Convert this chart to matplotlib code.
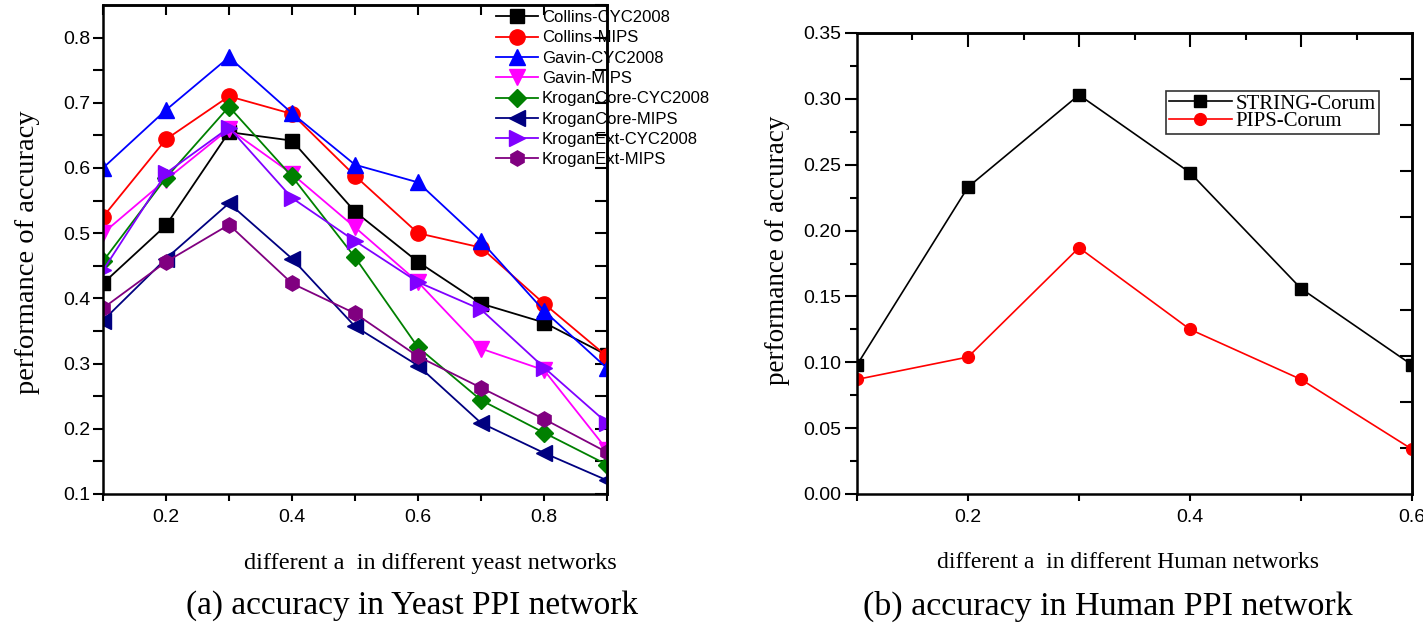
import numpy as np
import matplotlib
matplotlib.use("Agg")
import matplotlib.pyplot as plt
from matplotlib.ticker import FixedLocator, NullFormatter, FormatStrFormatter

# ---------------- data ----------------
alpha_yeast = [0.1, 0.2, 0.3, 0.4, 0.5, 0.6, 0.7, 0.8, 0.9]
collins_cyc = [0.423, 0.512, 0.655, 0.642, 0.533, 0.456, 0.392, 0.363, 0.313]
collins_mips = [0.525, 0.644, 0.710, 0.683, 0.588, 0.500, 0.478, 0.392, 0.311]
gavin_cyc = [0.600, 0.689, 0.770, 0.684, 0.605, 0.578, 0.488, 0.381, 0.293]
gavin_mips = [0.500, 0.582, 0.660, 0.591, 0.509, 0.425, 0.323, 0.290, 0.168]
krogancore_cyc = [0.457, 0.585, 0.694, 0.587, 0.463, 0.325, 0.244, 0.194, 0.145]
krogancore_mips = [0.366, 0.461, 0.546, 0.461, 0.357, 0.297, 0.209, 0.163, 0.121]
kroganext_cyc = [0.443, 0.592, 0.662, 0.554, 0.488, 0.425, 0.383, 0.294, 0.209]
kroganext_mips = [0.385, 0.456, 0.513, 0.423, 0.377, 0.311, 0.263, 0.215, 0.164]

yeast_names = ["Collins-CYC2008", "Collins-MIPS", "Gavin-CYC2008", "Gavin-MIPS",
               "KroganCore-CYC2008", "KroganCore-MIPS", "KroganExt-CYC2008", "KroganExt-MIPS"]
yeast_series = [collins_cyc, collins_mips, gavin_cyc, gavin_mips,
                krogancore_cyc, krogancore_mips, kroganext_cyc, kroganext_mips]

alpha_human = [0.1, 0.2, 0.3, 0.4, 0.5, 0.6]
string_corum = [0.098, 0.233, 0.303, 0.244, 0.156, 0.098]
pips_corum = [0.087, 0.104, 0.187, 0.125, 0.087, 0.034]
human_names = ["STRING-Corum", "PIPS-Corum"]

# ---------------- styles ----------------
yeast_colors = ["#000000", "#ff0000", "#0000ff", "#ff00ff", "#008000", "#000080", "#8000ff", "#800080"]
yeast_markers = ["s", "o", "^", "v", "D", "<", ">", "h"]
yeast_msizes = [10, 11, 11, 11, 9, 11, 11, 11]

SANS = "Liberation Sans"
SERIF = "Liberation Serif"

fig = plt.figure(figsize=(14.23, 6.32), dpi=100)
W, H = 1423.0, 632.0

def fx(px):
    return px / W

def fy(py):
    return 1 - py / H

# ---------------- left panel ----------------
axL = fig.add_axes([fx(103), fy(494), fx(607) - fx(103), fy(5) - fy(494)])
for name, vals, c, m, ms in zip(yeast_names, yeast_series, yeast_colors, yeast_markers, yeast_msizes):
    axL.plot(alpha_yeast, vals, color=c, marker=m, markersize=ms, linewidth=1.3,
             markeredgecolor=c, label=name)
axL.set_xlim(0.1, 0.9)
axL.set_ylim(0.1, 0.85)
axL.xaxis.set_major_locator(FixedLocator([0.2, 0.4, 0.6, 0.8]))
axL.xaxis.set_minor_locator(FixedLocator([0.1, 0.3, 0.5, 0.7, 0.9]))
axL.yaxis.set_major_locator(FixedLocator([0.1, 0.2, 0.3, 0.4, 0.5, 0.6, 0.7, 0.8]))
axL.yaxis.set_minor_locator(FixedLocator(list(np.arange(0.15, 0.85, 0.1))))
axL.xaxis.set_major_formatter(FormatStrFormatter("%.1f"))
axL.yaxis.set_major_formatter(FormatStrFormatter("%.1f"))
axL.tick_params(axis="x", which="both", direction="out", length=5, width=1.5,
                labelsize=14, pad=6)
axL.tick_params(axis="y", which="both", direction="out", length=7, width=1.5,
                labelsize=14, pad=2)
for lab in axL.get_xticklabels() + axL.get_yticklabels():
    lab.set_fontfamily(SANS)
for sp in axL.spines.values():
    sp.set_linewidth(1.8)

topL = axL.secondary_xaxis("top")
topL.xaxis.set_major_locator(FixedLocator(alpha_yeast))
topL.tick_params(direction="in", length=7, width=1.5, labelsize=0)
topL.xaxis.set_major_formatter(NullFormatter())
topL.spines["top"].set_linewidth(1.8)
rightL = axL.secondary_yaxis("right")
rightL.yaxis.set_major_locator(FixedLocator(list(np.arange(0.1, 0.851, 0.05))))
rightL.tick_params(direction="in", length=9, width=1.5)
rightL.yaxis.set_major_formatter(NullFormatter())
rightL.spines["right"].set_linewidth(1.8)

legL = axL.legend(loc="upper left", bbox_to_anchor=(fx(496), fy(10)),
                  bbox_transform=fig.transFigure, frameon=False,
                  prop={"family": SANS, "size": 12}, handlelength=2.5,
                  handletextpad=0.25, labelspacing=0.32, borderpad=0, borderaxespad=0)

fig.text(fx(28), fy(252), "performance of accuracy", rotation=90, ha="center", va="center",
         family=SERIF, fontsize=20.5)
fig.text(fx(430), fy(563), "different a  in different yeast networks", ha="center", va="center",
         family=SERIF, fontsize=17.5)
fig.text(fx(412), fy(606), "(a) accuracy in Yeast PPI network", ha="center", va="center",
         family=SERIF, fontsize=24)

# ---------------- right panel ----------------
axR = fig.add_axes([fx(857), fy(494), fx(1412) - fx(857), fy(33) - fy(494)])
axR.plot(alpha_human, string_corum, color="#000000", marker="s", markersize=8, linewidth=1.2,
         label=human_names[0])
axR.plot(alpha_human, pips_corum, color="#ff0000", marker="o", markersize=8.5, linewidth=1.2,
         label=human_names[1])
axR.set_xlim(0.1, 0.6)
axR.set_ylim(0.0, 0.35)
axR.xaxis.set_major_locator(FixedLocator([0.2, 0.4, 0.6]))
axR.xaxis.set_minor_locator(FixedLocator([0.1, 0.3, 0.5]))
axR.yaxis.set_major_locator(FixedLocator(list(np.arange(0.0, 0.351, 0.05))))
axR.yaxis.set_minor_locator(FixedLocator(list(np.arange(0.025, 0.35, 0.05))))
axR.xaxis.set_major_formatter(FormatStrFormatter("%.1f"))
axR.yaxis.set_major_formatter(FormatStrFormatter("%.2f"))
axR.tick_params(axis="x", which="both", direction="out", length=5, width=1.5,
                labelsize=14, pad=6)
axR.tick_params(axis="y", which="major", direction="out", length=9, width=1.5,
                labelsize=14, pad=2)
axR.tick_params(axis="y", which="minor", direction="out", length=5, width=1.5)
for lab in axR.get_xticklabels() + axR.get_yticklabels():
    lab.set_fontfamily(SANS)
for sp in axR.spines.values():
    sp.set_linewidth(1.8)

topR = axR.secondary_xaxis("top")
topR.xaxis.set_major_locator(FixedLocator([0.2, 0.3, 0.4, 0.5]))
topR.xaxis.set_minor_locator(FixedLocator([0.15, 0.25, 0.35, 0.45, 0.55]))
topR.tick_params(which="major", direction="in", length=10, width=1.5)
topR.tick_params(which="minor", direction="in", length=5, width=1.5)
topR.xaxis.set_major_formatter(NullFormatter())
topR.spines["top"].set_linewidth(1.8)
rightR = axR.secondary_yaxis("right")
rightR.yaxis.set_major_locator(FixedLocator(list(np.arange(0.035, 0.35, 0.035))))
rightR.tick_params(direction="in", length=9, width=1.5)
rightR.yaxis.set_major_formatter(NullFormatter())
rightR.spines["right"].set_linewidth(1.8)

legR = axR.legend(loc="upper left", bbox_to_anchor=(fx(1166), fy(91)),
                  bbox_transform=fig.transFigure, frameon=True, fancybox=False,
                  prop={"family": SERIF, "size": 15}, handlelength=3.0,
                  handletextpad=0.2, labelspacing=-0.1, borderpad=0.15, borderaxespad=0)
legR.get_frame().set_edgecolor("black")
legR.get_frame().set_linewidth(1.2)

fig.text(fx(778), fy(250), "performance of accuracy", rotation=90, ha="center", va="center",
         family=SERIF, fontsize=19.5)
fig.text(fx(1128), fy(562), "different a  in different Human networks", ha="center", va="center",
         family=SERIF, fontsize=17)
fig.text(fx(1108), fy(606), "(b) accuracy in Human PPI network", ha="center", va="center",
         family=SERIF, fontsize=24.5)

fig.savefig("out.png", dpi=100)
